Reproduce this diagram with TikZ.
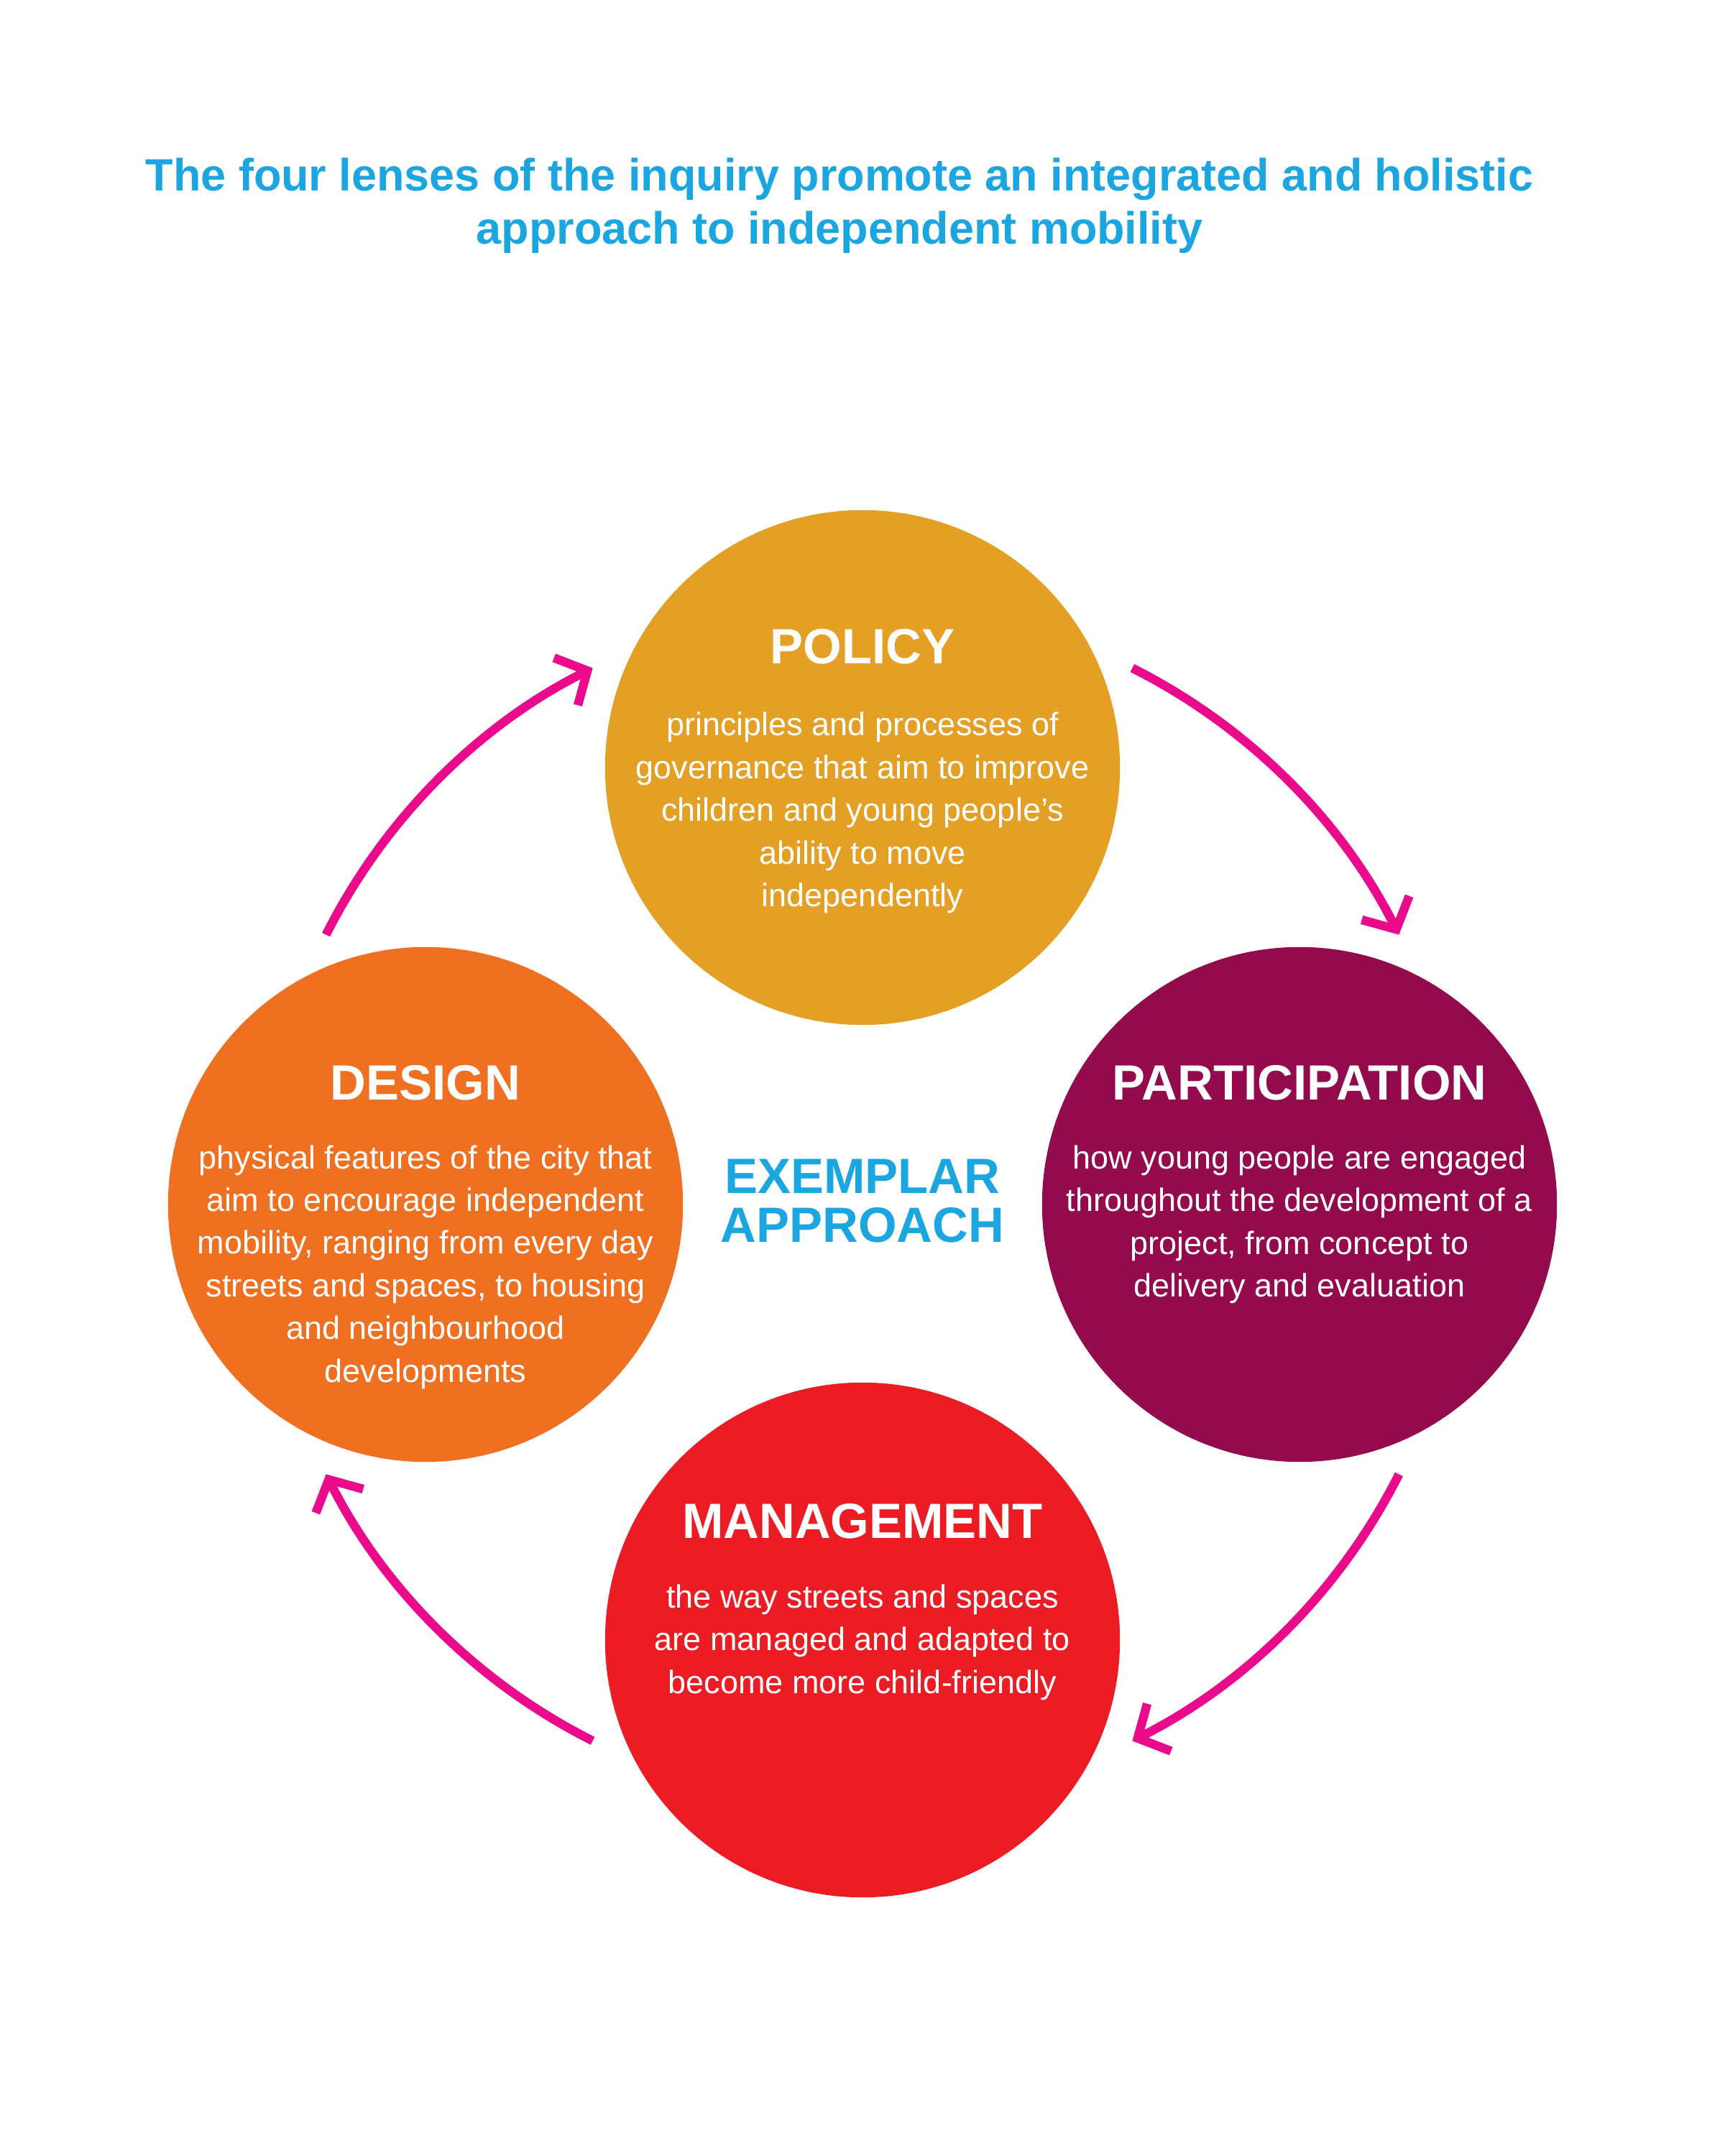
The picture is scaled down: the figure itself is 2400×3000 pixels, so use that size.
\documentclass[tikz,border=0pt]{standalone}
\usepackage{fontspec}
\setmainfont{Liberation Sans}
\usetikzlibrary{arrows.meta}
\definecolor{policyc}{HTML}{E3A024}
\definecolor{designc}{HTML}{F07022}
\definecolor{partc}{HTML}{930A4D}
\definecolor{mgmtc}{HTML}{EC1C24}
\definecolor{arrowc}{HTML}{EB0A8C}
\definecolor{titlec}{HTML}{1BA6E1}
\tikzset{
  lens/.style={circle, minimum size=7.16cm, inner sep=0pt},
  heading/.style={text=white, inner sep=0pt, font=\bfseries\fontsize{19.6}{22}\selectfont},
  bodytext/.style={text=white, inner sep=0pt, align=center, font=\fontsize{12.8}{16.9}\selectfont},
  titletext/.style={text=titlec, inner sep=0pt, font=\bfseries\fontsize{17.9}{20.8}\selectfont},
  cyclearrow/.style={draw=arrowc, line width=3.5pt, -{Straight Barb[length=9.5pt,width=21pt]}},
}
\begin{document}
\begin{tikzpicture}[x=0.01cm,y=0.01cm]
\useasboundingbox[fill=white] (0,0) rectangle (2400,3000);
% title
\node[titletext] (t1) at (1168,2751) {The four lenses of the inquiry promote an integrated and holistic};
\node[titletext] (t2) at (1168,2677) {approach to independent mobility};
% circles
\node[lens, fill=policyc] (policy) at (1200,1932) {};
\node[lens, fill=designc] (design) at (592,1324) {};
\node[lens, fill=partc] (part) at (1808,1324) {};
\node[lens, fill=mgmtc] (mgmt) at (1200,718) {};
% headings
\node[heading] (hpolicy) at (1200,2100) {POLICY};
\node[heading] (hdesign) at (592,1493) {DESIGN};
\node[heading] (hpart) at (1808,1493) {PARTICIPATION};
\node[heading] (hmgmt) at (1200,883) {MANAGEMENT};
% bodies
\node[bodytext] (bpolicy) at (1200,1869) {principles and processes of\\governance that aim to improve\\children and young people’s\\ability to move\\independently};
\node[bodytext] (bdesign) at (592,1237) {physical features of the city that\\aim to encourage independent\\mobility, ranging from every day\\streets and spaces, to housing\\and neighbourhood\\developments};
\node[bodytext] (bpart) at (1808,1296) {how young people are engaged\\throughout the development of a\\project, from concept to\\delivery and evaluation};
\node[bodytext] (bmgmt) at (1200,715) {the way streets and spaces\\are managed and adapted to\\become more child-friendly};
% centre
\node[text=titlec, inner sep=0pt, align=center, font=\bfseries\fontsize{19.6}{19.2}\selectfont] (ex) at (1200,1329) {EXEMPLAR\\APPROACH};
\coordinate (ctr) at (1200,1324);
% arrows
\draw[cyclearrow] (ctr) ++(153.3:8.35cm) arc[start angle=153.3, end angle=116.7, radius=8.35cm];
\draw[cyclearrow] (ctr) ++(63.3:8.35cm) arc[start angle=63.3, end angle=26.7, radius=8.35cm];
\draw[cyclearrow] (ctr) ++(-26.7:8.35cm) arc[start angle=-26.7, end angle=-63.3, radius=8.35cm];
\draw[cyclearrow] (ctr) ++(-116.7:8.35cm) arc[start angle=-116.7, end angle=-153.3, radius=8.35cm];
\end{tikzpicture}
\end{document}
